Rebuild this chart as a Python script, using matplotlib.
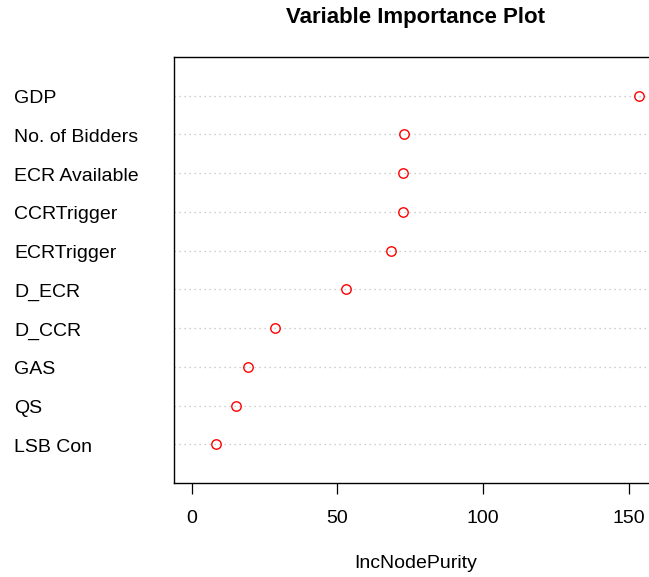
import matplotlib
matplotlib.use("Agg")
import matplotlib.pyplot as plt
import matplotlib.transforms as mtransforms

plt.rcParams['font.family'] = ['Liberation Sans', 'DejaVu Sans']

variables = ["LSB Con", "QS", "GAS", "D_CCR", "D_ECR", "ECRTrigger",
             "CCRTrigger", "ECR Available", "No. of Bidders", "GDP"]
inc_node_purity = [8.4, 15.0, 19.3, 28.4, 52.9, 68.3, 72.5, 72.6, 72.7, 153.6]
xticks = [0, 50, 100, 150]

W, H = 649, 577
fig = plt.figure(figsize=(W / 100, H / 100), dpi=100)
left, right, top, bottom = 174, 657, 57, 483
ax = fig.add_axes([left / W, 1 - bottom / H, (right - left) / W, (bottom - top) / H])

n = len(variables)
ys = list(range(1, n + 1))
xmax = max(inc_node_purity)
pad = 0.04 * xmax
ax.set_xlim(-pad, xmax + pad)
ax.set_ylim(0, n + 1)

for y in ys:
    ax.axhline(y, color='#bebebe', linestyle=(0, (1, 3)), linewidth=0.9, zorder=1)

ax.plot(inc_node_purity, ys, linestyle='none', marker='o', markersize=6.8,
        markerfacecolor='none', markeredgecolor='#ff0000', markeredgewidth=1.0, zorder=3)

fs = 14
trans = mtransforms.blended_transform_factory(fig.transFigure, ax.transData)
offset = mtransforms.ScaledTranslation(0, -1 / 100, fig.dpi_scale_trans)
for y, name in zip(ys, variables):
    ax.text(14 / W, y, name, transform=trans + offset, fontsize=fs,
            va='center_baseline', ha='left')

ax.set_yticks([])
ax.set_xticks(xticks)
ax.set_xticklabels([str(v) for v in xticks], fontsize=fs)
ax.tick_params(axis='x', direction='out', length=8, width=0.9, pad=11.5)
for s in ax.spines.values():
    s.set_linewidth(1.0)
    s.set_color('black')

ax.set_xlabel("IncNodePurity", fontsize=fs, labelpad=20)
fig.text(((left + right) / 2) / W, 1 - 18 / H, "Variable Importance Plot",
         fontsize=16, fontweight='bold', ha='center', va='center')

fig.savefig("out.png", dpi=100)
